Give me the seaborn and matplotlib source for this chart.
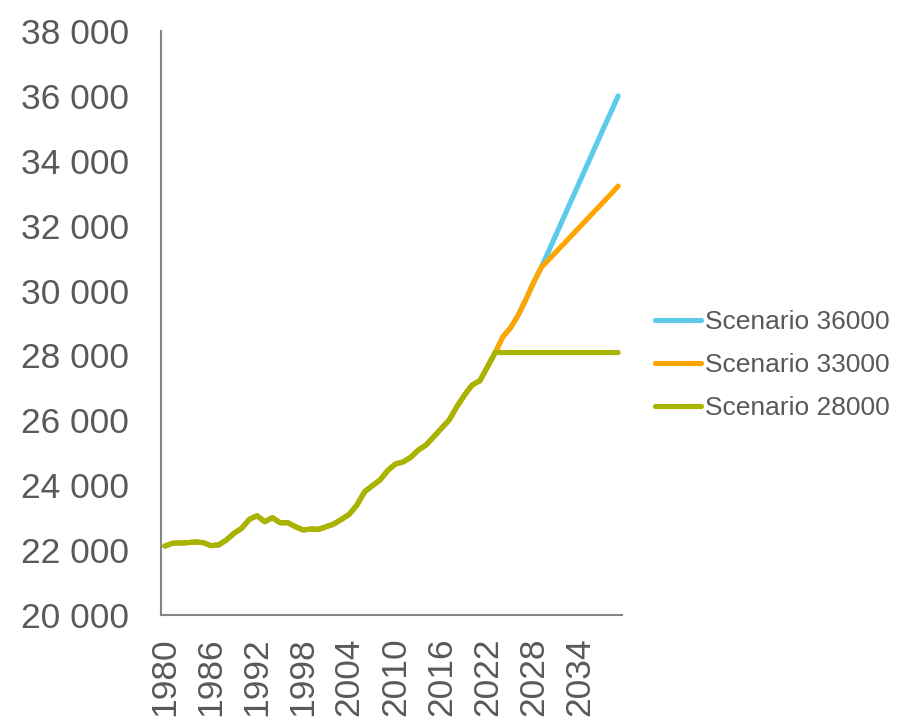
import numpy as np
import pandas as pd
import matplotlib
matplotlib.use("Agg")
import matplotlib.pyplot as plt
import seaborn as sns

# ---- data ----
years = list(range(1980, 2040))
history = [22127, 22210, 22220, 22230, 22250, 22230, 22137, 22160, 22310, 22518,
           22672, 22950, 23060, 22875, 22999, 22845, 22845, 22721, 22620, 22650,
           22640, 22721, 22805, 22950, 23103, 23390, 23800, 23985, 24160, 24450,
           24654, 24716, 24860, 25085, 25240, 25495, 25754, 26010, 26420, 26780,
           27089, 27221, 27653, 28090]  # 1980-2023
common_2024_2029 = [28577, 28855, 29246, 29730, 30254, 30716]
s36000_2030_2039 = [31240, 31770, 32300, 32830, 33360, 33890, 34420, 34950, 35470, 36000]
s33000_2030_2039 = [30960, 31210, 31460, 31710, 31960, 32210, 32460, 32710, 32960, 33220]
s28000_2024_2039 = [28090] * 16

scenario_names = ["Scenario 36000", "Scenario 33000", "Scenario 28000"]
colors = ["#5BCBE9", "#FFA500", "#A9B400"]

values = {
    "Scenario 36000": history + common_2024_2029 + s36000_2030_2039,
    "Scenario 33000": history + common_2024_2029 + s33000_2030_2039,
    "Scenario 28000": history + s28000_2024_2039,
}

rows = []
for name in scenario_names:
    for y, v in zip(years, values[name]):
        rows.append({"year": y, "value": v, "scenario": name})
df = pd.DataFrame(rows)

y_ticks = list(range(20000, 38001, 2000))
x_label_years = list(range(1980, 2035, 6))

# ---- plot ----
sns.set_style("white")
plt.rcParams["font.family"] = ["Liberation Sans", "DejaVu Sans"]
text_color = "#595959"
axis_color = "#868686"

fig = plt.figure(figsize=(8.97, 7.17), dpi=100)
ax = fig.add_axes([161 / 897, 1 - 615 / 717, (622 - 161) / 897, (615 - 31) / 717])

sns.lineplot(data=df, x="year", y="value", hue="scenario", hue_order=scenario_names,
             palette=dict(zip(scenario_names, colors)), linewidth=3.7, ax=ax,
             legend=False, solid_capstyle="round")

ax.set_xlim(1979.5, 2039.5)
ax.set_ylim(20000, 38000)
ax.set_yticks(y_ticks)
ax.set_yticklabels([f"{v:,}".replace(",", " ") for v in y_ticks])
ax.set_xticks(x_label_years)
ax.set_xticklabels([str(y) for y in x_label_years], rotation=90)
ax.set_xticks(np.arange(1979.5, 2040, 1.0), minor=True)

ax.tick_params(axis="x", which="major", length=0, pad=16, labelsize=25.5, colors=text_color)
ax.tick_params(axis="x", which="minor", length=6, width=1.3, color=axis_color, direction="out")
ax.tick_params(axis="y", which="major", length=7, width=1.3, color=axis_color, pad=16,
               labelsize=25.5, labelcolor=text_color, direction="out")
for lbl in ax.get_xticklabels():
    lbl.set_color(text_color)

for side in ["top", "right"]:
    ax.spines[side].set_visible(False)
for side in ["left", "bottom"]:
    ax.spines[side].set_color(axis_color)
    ax.spines[side].set_linewidth(1.5)
ax.set_xlabel("")
ax.set_ylabel("")
ax.grid(False)

handles = [matplotlib.lines.Line2D([], [], color=c, linewidth=3.7, solid_capstyle="round")
           for c in colors]
leg = fig.legend(handles, scenario_names, loc="center left",
                 bbox_to_anchor=(655 / 897, 1 - 365 / 717), frameon=False,
                 fontsize=19, handlelength=1.75, handletextpad=0.15,
                 labelspacing=0.72, borderpad=0, borderaxespad=0)
for t in leg.get_texts():
    t.set_color(text_color)

fig.savefig("out.png", dpi=100)
